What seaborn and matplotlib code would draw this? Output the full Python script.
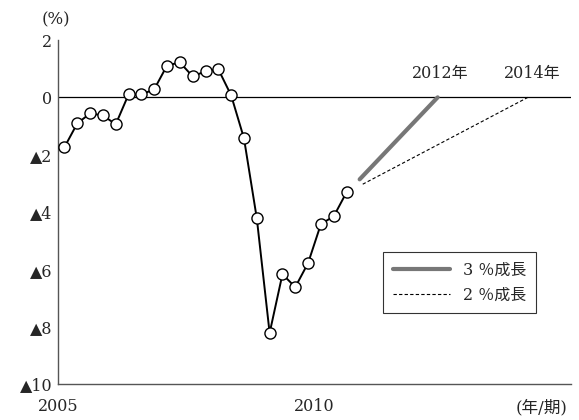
import numpy as np
import pandas as pd
import seaborn as sns
import matplotlib
matplotlib.use("Agg")
import matplotlib.pyplot as plt

# 四半期データ（2005年1期〜2010年3期）
quarters = 2005.125 + 0.25 * np.arange(23)
values = [-1.74, -0.91, -0.56, -0.63, -0.94, 0.10, 0.10, 0.28, 1.11, 1.22,
          0.73, 0.91, 0.98, 0.07, -1.43, -4.22, -8.22, -6.17, -6.62, -5.78,
          -4.42, -4.15, -3.31]

# 成長シナリオ（始点→ゼロ到達）
g3_x = [2010.88, 2012.40]
g3_y = [-2.86, 0.0]
g2_x = [2010.94, 2014.16]
g2_y = [-3.03, 0.0]

yticks = [2, 0, -2, -4, -6, -8, -10]
ytick_labels = ["2", "0", "▲2", "▲4", "▲6", "▲8", "▲10"]

sns.set_style("white")
plt.rcParams['font.family'] = ['DejaVu Serif', 'Noto Sans CJK JP', 'DejaVu Sans']

df = pd.DataFrame({"x": quarters, "y": values})

fig = plt.figure(figsize=(5.79, 4.20), dpi=100)
ax = fig.add_axes([0.1002, 0.0857, 0.886, 0.819])

ax.axhline(0, color="black", lw=0.9, zorder=1)

sns.lineplot(data=df, x="x", y="y", ax=ax, color="black", lw=1.4,
             marker="o", markersize=8, markerfacecolor="white",
             markeredgecolor="black", markeredgewidth=1.0, zorder=3)

sns.lineplot(x=g3_x, y=g3_y, ax=ax, color="#777777", lw=3, label="3 ％成長")
sns.lineplot(x=g2_x, y=g2_y, ax=ax, color="black", lw=0.8,
             linestyle=(0, (3, 2)), label="2 ％成長")

ax.set_xlim(2005, 2015)
ax.set_ylim(-10, 2)
ax.set_xticks([2005, 2010])
ax.set_xticklabels(["2005", "2010"], fontsize=11.5)
ax.set_yticks(yticks)
ax.set_yticklabels(ytick_labels, fontsize=11.5)
ax.tick_params(axis="y", direction="in", length=5, width=0.8, pad=4)
ax.tick_params(axis="x", direction="out", length=5, width=0.8, pad=5)
ax.set_xlabel("")
ax.set_ylabel("")

sns.despine(ax=ax)
for s in ["left", "bottom"]:
    ax.spines[s].set_color("#555555")
    ax.spines[s].set_linewidth(1.0)

ax.text(2012.46, 0.84, "2012年", ha="center", va="center", fontsize=11.5)
ax.text(2014.24, 0.84, "2014年", ha="center", va="center", fontsize=11.5)

fig.text(56 / 579, 1 - 20 / 420, "(%)", ha="center", va="center", fontsize=12)
fig.text(542 / 579, 1 - 408 / 420, "(年/期)", ha="center", va="center", fontsize=12)

leg = ax.legend(loc="upper left", bbox_to_anchor=(0.634, 0.384), fontsize=11.5,
                frameon=True, fancybox=False, handlelength=3.6,
                borderpad=0.6, labelspacing=0.5, borderaxespad=0)
leg.get_frame().set_edgecolor("black")
leg.get_frame().set_linewidth(0.8)

fig.savefig("out.png", dpi=100)
